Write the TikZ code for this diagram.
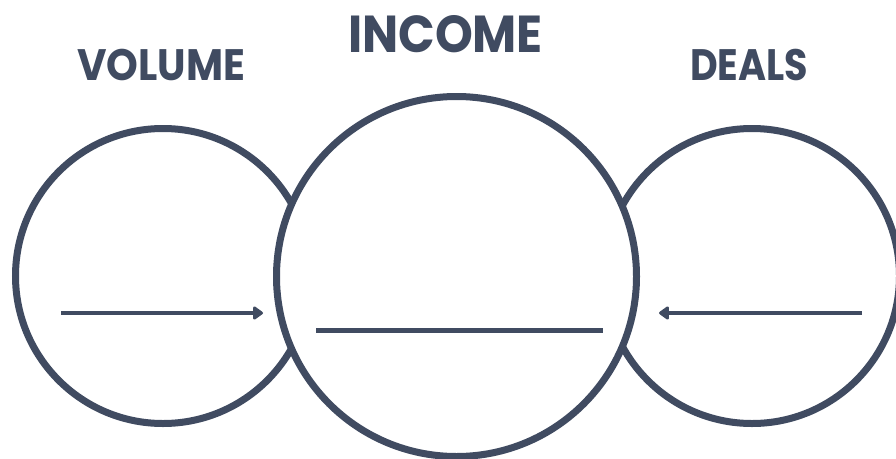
\documentclass[tikz,border=0pt]{standalone}
\usepackage{graphicx}
\usepackage{fontspec}
\setmainfont{Poppins}
\usetikzlibrary{arrows.meta}
\definecolor{slate}{HTML}{404B61}
\begin{document}
\begin{tikzpicture}[x=1pt,y=-1pt,
  ring/.style={circle,draw=slate,line width=7pt,fill=white,inner sep=0pt},
  title/.style={text=slate,font=\bfseries\fontsize{44}{44}\selectfont,anchor=base,inner sep=0pt},
  conn/.style={draw=slate,line width=4pt},
  tip/.style={-{Triangle[length=11pt,width=15pt,round]}}]
\useasboundingbox (0,0) rectangle (896,458);
\node[ring,minimum size=295pt] (vol) at (163,276) {};
\node[ring,minimum size=295pt] (deal) at (752,276) {};
\node[ring,minimum size=360pt] (inc) at (456.5,276.5) {};
\node[title] (tvol) at (161,80) {\resizebox{168pt}{\height}{VOLUME}};
\node[title,font=\bfseries\fontsize{52}{52}\selectfont] (tinc) at (445.5,52) {\resizebox{195pt}{\height}{INCOME}};
\node[title] (tdeal) at (749,80) {\resizebox{118pt}{\height}{DEALS}};
\coordinate (l1) at (61,313);
\coordinate (l2) at (263,313);
\coordinate (r1) at (862,313);
\coordinate (r2) at (659,313);
\coordinate (m1) at (316,330.5);
\coordinate (m2) at (603,330.5);
\draw[conn,tip] (l1) -- (l2);
\draw[conn,tip] (r1) -- (r2);
\draw[draw=slate,line width=5pt] (m1) -- (m2);
\end{tikzpicture}
\end{document}
